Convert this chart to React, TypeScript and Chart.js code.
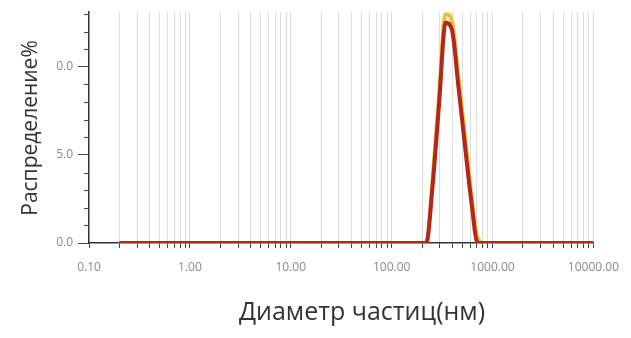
import React, { useEffect, useRef } from "react";
import { Chart, registerables } from "chart.js";

Chart.register(...registerables);

// Size classes (nm) and distribution values (%)
const sizeClasses = [0.2, 190.1, 220.2, 255.0, 295.3, 342.0, 396.1, 458.7, 531.2, 615.1, 712.4, 825.0, 10000];
const seriesRed = [0, 0, 0, 3.3, 7.9, 12.5, 12.1, 8.9, 5.6, 2.4, 0, 0, 0];
const seriesYellow = [0, 0, 0, 3.7, 8.4, 13.0, 12.6, 9.4, 6.1, 2.8, 0.3, 0, 0];

const xMajorTicks = [0.1, 1, 10, 100, 1000, 10000];
const xMajorLabels = ["0.10", "1.00", "10.00", "100.00", "1000.00", "10000.00"];
const xMinorMultipliers = [2, 3, 4, 5, 6, 7, 8, 9];

const yTicks = [0, 1, 2, 3, 4, 5, 6, 7, 8, 9, 10, 11, 12, 13];
const yLabelValues = [0, 5, 10];
const yLabelTexts = ["0.0", "5.0", "0.0"];

const xTitle = "Диаметр частиц(нм)";
const yTitle = "Распределение%";

export default function App() {
  const ref = useRef<HTMLCanvasElement | null>(null);

  useEffect(() => {
    if (!ref.current) return;
    const allXTicks: number[] = [];
    xMajorTicks.forEach((m, i) => {
      allXTicks.push(m);
      if (i < xMajorTicks.length - 1) xMinorMultipliers.forEach((k) => allXTicks.push(m * k));
    });

    const titlePlugin = {
      id: "titles",
      afterDraw(chart: any) {
        const ctx = chart.ctx;
        const ys = chart.scales.y;
        ctx.save();
        // minor y ticks (shorter)
        ctx.strokeStyle = "#444444";
        ctx.lineWidth = 1;
        yTicks.forEach((v) => {
          if (yLabelValues.indexOf(v) >= 0) return;
          const py = Math.round(ys.getPixelForValue(v)) + 0.5;
          ctx.beginPath();
          ctx.moveTo(ys.right - 5, py);
          ctx.lineTo(ys.right, py);
          ctx.stroke();
        });
        ctx.fillStyle = "#333333";
        ctx.textAlign = "center";
        ctx.textBaseline = "middle";
        ctx.font = '25px "Open Sans"';
        ctx.fillText(xTitle, 362, 313);
        ctx.translate(31, 128);
        ctx.rotate(-Math.PI / 2);
        ctx.font = '21px "Open Sans"';
        ctx.fillText(yTitle, 0, 0);
        ctx.restore();
      },
    };

    const chart = new Chart(ref.current, {
      type: "line",
      data: {
        datasets: [
          {
            label: "red",
            data: sizeClasses.map((x, i) => ({ x, y: seriesRed[i] })),
            borderColor: "#b3261a",
            borderWidth: 4,
            pointRadius: 0,
            cubicInterpolationMode: "monotone",
            fill: false,
            order: 0,
          },
          {
            label: "yellow",
            data: sizeClasses.map((x, i) => ({ x, y: seriesYellow[i] })),
            borderColor: "#ecc03c",
            borderWidth: 4,
            pointRadius: 0,
            cubicInterpolationMode: "monotone",
            fill: false,
            order: 1,
          },
        ],
      },
      options: {
        animation: false,
        responsive: false,
        maintainAspectRatio: false,
        layout: { padding: { top: 12, right: 37, left: 0, bottom: 0 } },
        plugins: { legend: { display: false }, tooltip: { enabled: false } },
        scales: {
          x: {
            type: "logarithmic",
            min: 0.1,
            max: 10000,
            afterBuildTicks: (scale: any) => {
              scale.ticks = allXTicks.map((v) => ({ value: v }));
            },
            afterFit: (scale: any) => {
              scale.height = 95;
            },
            ticks: {
              autoSkip: false,
              maxRotation: 0,
              padding: 12,
              color: "#8a8a8a",
              font: { family: "Open Sans", size: 12 },
              callback: (v: any) => {
                const i = xMajorTicks.findIndex((m) => Math.abs(m - Number(v)) < m * 1e-6);
                return i >= 0 ? xMajorLabels[i] : "";
              },
            },
            grid: {
              display: true,
              drawOnChartArea: true,
              drawTicks: true,
              tickLength: 5,
              color: (c: any) => (c.tick && c.tick.value <= 0.1 ? "rgba(0,0,0,0)" : "#dcdcdc"),
              tickColor: "#444444",
            },
            border: { display: true, color: "#333333", width: 1.5 },
          },
          y: {
            type: "linear",
            min: 0,
            max: 13.1,
            afterBuildTicks: (scale: any) => {
              scale.ticks = yTicks.map((v) => ({ value: v }));
            },
            afterFit: (scale: any) => {
              scale.width = 89;
            },
            ticks: {
              autoSkip: false,
              padding: 5,
              color: "#8a8a8a",
              font: { family: "Open Sans", size: 12 },
              callback: (v: any) => {
                const i = yLabelValues.indexOf(Number(v));
                return i >= 0 ? yLabelTexts[i] : "";
              },
            },
            grid: {
              display: true,
              drawOnChartArea: false,
              drawTicks: true,
              tickLength: 11,
              tickColor: (c: any) =>
                c.tick && yLabelValues.indexOf(c.tick.value) >= 0 ? "#444444" : "rgba(0,0,0,0)",
            },
            border: { display: true, color: "#333333", width: 1.5 },
          },
        },
      },
      plugins: [titlePlugin],
    } as any);
    return () => chart.destroy();
  }, []);

  return (
    <div style={{ position: "absolute", left: 0, top: 0, width: 631, height: 338, background: "#ffffff" }}>
      <canvas ref={ref} width={631} height={338} />
    </div>
  );
}
